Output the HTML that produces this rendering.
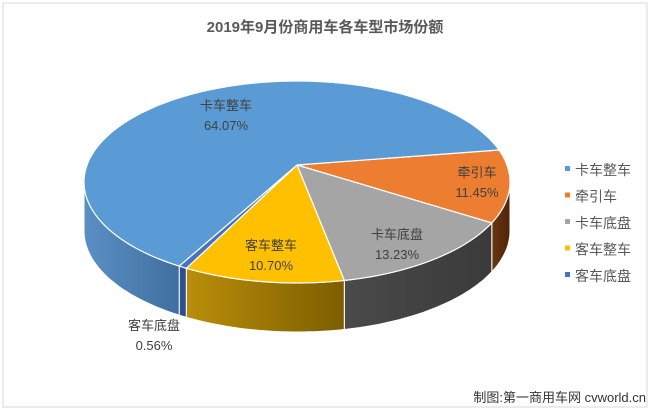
<!DOCTYPE html>
<html><head><meta charset="utf-8"><style>
body{margin:0;width:650px;height:411px;background:#fff;overflow:hidden;font-family:"Liberation Sans","Noto Sans CJK SC",sans-serif}
</style></head><body>
<svg id="c" width="650" height="411" style="position:absolute;left:0;top:0">
<defs>
<linearGradient id="gb" x1="0" x2="1"><stop offset="0" stop-color="#5b8fc4"/><stop offset="1" stop-color="#3f6f9f"/></linearGradient>
<linearGradient id="gy" x1="0" x2="1"><stop offset="0" stop-color="#b98e0a"/><stop offset="1" stop-color="#7d5e00"/></linearGradient>
<linearGradient id="gg" x1="0" x2="1"><stop offset="0" stop-color="#4a4a4a"/><stop offset="1" stop-color="#3a3a3a"/></linearGradient>
<linearGradient id="go" x1="0" x2="1"><stop offset="0" stop-color="#6a3612"/><stop offset="1" stop-color="#4e2508"/></linearGradient>
<linearGradient id="gd" x1="0" x2="1"><stop offset="0" stop-color="#2e4f8f"/><stop offset="1" stop-color="#2e4f8f"/></linearGradient>
</defs>
<rect x="3" y="3" width="644" height="404" fill="#fff" stroke="#d9d9d9"/>
<text x="325" y="32" text-anchor="middle" font-size="15" font-weight="bold" fill="#595959">2019年9月份商用车各车型市场份额</text>
<g id="pie"></g>
<g id="legend"></g>
<text x="646" y="402" text-anchor="end" font-size="13" fill="#333">制图:第一商用车网 cvworld.cn</text>
</svg>
<script>
const categories=["牵引车","卡车底盘","客车整车","客车底盘","卡车整车"];
const values=[11.45,13.23,10.70,0.56,64.07];
const valueLabels=["11.45%","13.23%","10.70%","0.56%","64.07%"];
const legendOrder=["卡车整车","牵引车","卡车底盘","客车整车","客车底盘"];
const topColors={"卡车整车":"#5b9bd5","牵引车":"#ed7d31","卡车底盘":"#a5a5a5","客车整车":"#ffc000","客车底盘":"#4472c4"};
const sideFills={"卡车整车":"url(#gb)","牵引车":"url(#go)","卡车底盘":"url(#gg)","客车整车":"url(#gy)","客车底盘":"url(#gd)"};
const cx=297,cy=182,rx=213,ry=101,depth=49,startDeg=-10,persp=8.6;
const NS="http://www.w3.org/2000/svg";
const pie=document.getElementById('pie');
const total=values.reduce((a,b)=>a+b,0);
function warp(t){return t+persp*Math.sin((t-90)*Math.PI/180);}
function pt(a,dy){const r=a*Math.PI/180;return [cx+rx*Math.cos(r),cy+ry*Math.sin(r)+(dy||0)];}
function arcPts(a0,a1,dy){const p=[];const n=Math.max(2,Math.ceil(Math.abs(a1-a0)/2));for(let i=0;i<=n;i++)p.push(pt(a0+(a1-a0)*i/n,dy));return p;}
let a=startDeg;const slices=[];
values.forEach((v,i)=>{const a1=a+v/total*360;slices.push([warp(a),warp(a1),categories[i]]);a=a1;});
slices.forEach(([a0,a1,name])=>{
  const ranges=[];
  for(let k=-1;k<=1;k++){const lo=Math.max(a0,k*360),hi=Math.min(a1,k*360+180);if(hi>lo)ranges.push([lo,hi]);}
  ranges.forEach(([lo,hi])=>{
    const top=arcPts(lo,hi,0),bot=arcPts(hi,lo,depth);
    const p=document.createElementNS(NS,'path');
    p.setAttribute('d','M'+top.concat(bot).map(q=>q[0].toFixed(1)+','+q[1].toFixed(1)).join('L')+'Z');
    p.setAttribute('fill',sideFills[name]);p.setAttribute('stroke','#fff');p.setAttribute('stroke-width','1');
    
    
    pie.appendChild(p);
  });
});
slices.forEach(([a0,a1,name])=>{
  const arc=arcPts(a0,a1,0);
  const p=document.createElementNS(NS,'path');
  p.setAttribute('d','M'+cx+',165L'+arc.map(q=>q[0].toFixed(1)+','+q[1].toFixed(1)).join('L')+'Z');
  p.setAttribute('fill',topColors[name]);p.setAttribute('stroke','#fff');p.setAttribute('stroke-width','1.2');
  
  
  pie.appendChild(p);
});
const labelPos={"卡车整车":[226,110],"牵引车":[477,177],"卡车底盘":[397,239],"客车整车":[271,250],"客车底盘":[154,330]};
categories.forEach((c,i)=>{
  const [x,y]=labelPos[c];
  const t=document.createElementNS(NS,'text');
  t.setAttribute('x',x);t.setAttribute('y',y);t.setAttribute('text-anchor','middle');
  t.setAttribute('font-size','13');t.setAttribute('fill','#404040');
  
  
  t.innerHTML='<tspan x="'+x+'">'+c+'</tspan><tspan x="'+x+'" dy="20">'+valueLabels[i]+'</tspan>';
  pie.appendChild(t);
});
const lg=document.getElementById('legend');
legendOrder.forEach((c,i)=>{
  const y=170+i*26.5;
  const g=document.createElementNS(NS,'g');
  
  
  g.innerHTML='<rect x="565" y="'+(y-4)+'" width="5" height="5" fill="'+topColors[c]+'"/><text x="575" y="'+(y+5)+'" font-size="14" fill="#595959">'+c+'</text>';
  lg.appendChild(g);
});
</script>
</body></html>
